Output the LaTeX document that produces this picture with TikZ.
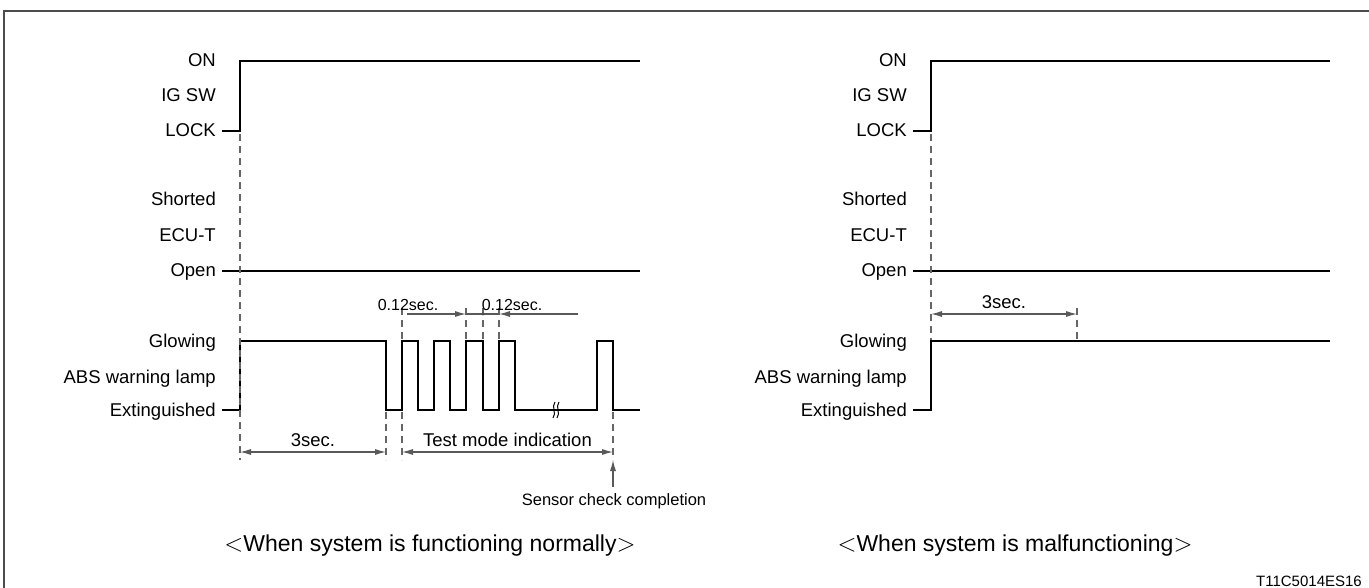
\documentclass[tikz,border=0pt]{standalone}
\usepackage{fontspec}
\setmainfont{Liberation Sans}
\usetikzlibrary{positioning, calc, arrows.meta}

\tikzset{
  sig/.style={line width=2.6pt, line join=miter},
  dimline/.style={black!65, line width=1.1pt},
  guide/.style={black!60, line width=1.1pt, dash pattern=on 7pt off 5pt},
  lbl/.style={anchor=base east, inner sep=0pt, font=\fontsize{18.5}{20}\selectfont},
  dimtxt/.style={anchor=base, inner sep=0pt, text=black, font=\fontsize{18.5}{20}\selectfont},
  smalltxt/.style={anchor=base, inner sep=0pt, text=black, font=\fontsize{16}{18}\selectfont},
  caption/.style={anchor=base, inner sep=0pt, font=\fontsize{23}{26}\selectfont},
}

\begin{document}
\begin{tikzpicture}[x=1pt, y=-1pt, >={Latex[length=11pt,width=6pt]}]
    \useasboundingbox (0,0) rectangle (1369,588);

    % Frame
    \draw[black!70, line width=1.4pt] (4,588) -- (4,11) -- (1369,11);

    % ---------------- Left: system normal ----------------
    % Labels
    \node[lbl] (onL)    at (216,67)  {ON};
    \node[lbl] (igL)    at (216,102) {IG SW};
    \node[lbl] (lockL)  at (216,137) {LOCK};
    \node[lbl] (shL)    at (216,206) {Shorted};
    \node[lbl] (ecuL)   at (216,242) {ECU-T};
    \node[lbl] (openL)  at (216,277) {Open};
    \node[lbl] (glowL)  at (216,348) {Glowing};
    \node[lbl] (absL)   at (216,383) {ABS warning lamp};
    \node[lbl] (extL)   at (216,416) {Extinguished};

    % IG SW and ECU-T traces
    \draw[sig] (222,131) -- (240,131) -- (240,61) -- (640,61);
    \draw[sig] (222,271) -- (640,271);

    % Warning lamp trace
    \draw[sig] (222,410) -- (240,410) -- (240,341) -- (386,341) -- (386,410)
        -- (402,410) -- (402,341) -- (418,341) -- (418,410)
        -- (434,410) -- (434,341) -- (450,341) -- (450,410)
        -- (466,410) -- (466,341) -- (483,341) -- (483,410)
        -- (499,410) -- (499,341) -- (515,341) -- (515,410)
        -- (597,410) -- (597,341) -- (613,341) -- (613,410) -- (640,410);

    % Break mark
    \draw[line width=1pt] (555,402) .. controls (551,407) and (557,413) .. (553,418);
    \draw[line width=1pt] (559,402) .. controls (555,407) and (561,413) .. (557,418);

    % Guide lines
    \draw[guide] (240,134) -- (240,460);
    \draw[guide] (386,412) -- (386,460);
    \draw[guide] (402,412) -- (402,460);
    \draw[guide] (613,412) -- (613,460);
    \foreach \gx in {402,466,483,499}
        \draw[guide] (\gx,308) -- (\gx,340);

    % 0.12 sec dimensions
    \coordinate (pA) at (466,314);
    \coordinate (pB) at (499,314);
    \draw[dimline, ->] (407,314) -- (pA);
    \draw[dimline] (pA) -- (pB);
    \draw[dimline, <-] (pB) -- (578,314);
    \fill[black!70] (483,314) circle (1.6pt);
    \node[smalltxt] (tA) at (408,311) {0.12sec.};
    \node[smalltxt] (tB) at (512,311) {0.12sec.};

    % Bottom dimensions
    \coordinate (d0) at (240,452);
    \coordinate (d1) at (386,452);
    \coordinate (d2) at (402,452);
    \coordinate (d3) at (613,452);
    \draw[dimline, <->] (d0) -- (d1) node[dimtxt, midway, above=5pt] (t3L) {3sec.};
    \draw[dimline, <->] (d2) -- (d3) node[dimtxt, midway, above=5pt] (tTest) {Test mode indication};

    % Sensor check completion
    \node[anchor=base, inner sep=0pt, font=\fontsize{16.5}{18}\selectfont] (sens) at (614,505) {Sensor check completion};
    \draw[dimline, ->] (613,487) -- (613,460);

    \node[caption] (capL) at (430,551) {$<$When system is functioning normally$>$};

    % ---------------- Right: system malfunction ----------------
    \node[lbl] (onR)    at (907,67)  {ON};
    \node[lbl] (igR)    at (907,102) {IG SW};
    \node[lbl] (lockR)  at (907,137) {LOCK};
    \node[lbl] (shR)    at (907,206) {Shorted};
    \node[lbl] (ecuR)   at (907,242) {ECU-T};
    \node[lbl] (openR)  at (907,277) {Open};
    \node[lbl] (glowR)  at (907,348) {Glowing};
    \node[lbl] (absR)   at (907,383) {ABS warning lamp};
    \node[lbl] (extR)   at (907,416) {Extinguished};

    \draw[sig] (913,131) -- (931,131) -- (931,61) -- (1330,61);
    \draw[sig] (913,271) -- (1330,271);
    \draw[sig] (913,410) -- (931,410) -- (931,341) -- (1330,341);

    \draw[guide] (931,134) -- (931,340);
    \draw[guide] (1077,308) -- (1077,340);
    \coordinate (r0) at (931,314);
    \coordinate (r1) at (1077,314);
    \draw[dimline, <->] (r0) -- (r1) node[dimtxt, midway, above=5pt] (t3R) {3sec.};

    \node[caption] (capR) at (1015,551) {$<$When system is malfunctioning$>$};

    % Figure code
    \node[anchor=base east, inner sep=0pt, font=\fontsize{15}{17}\selectfont] (code) at (1362,586) {T11C5014ES16};

\end{tikzpicture}
\end{document}
